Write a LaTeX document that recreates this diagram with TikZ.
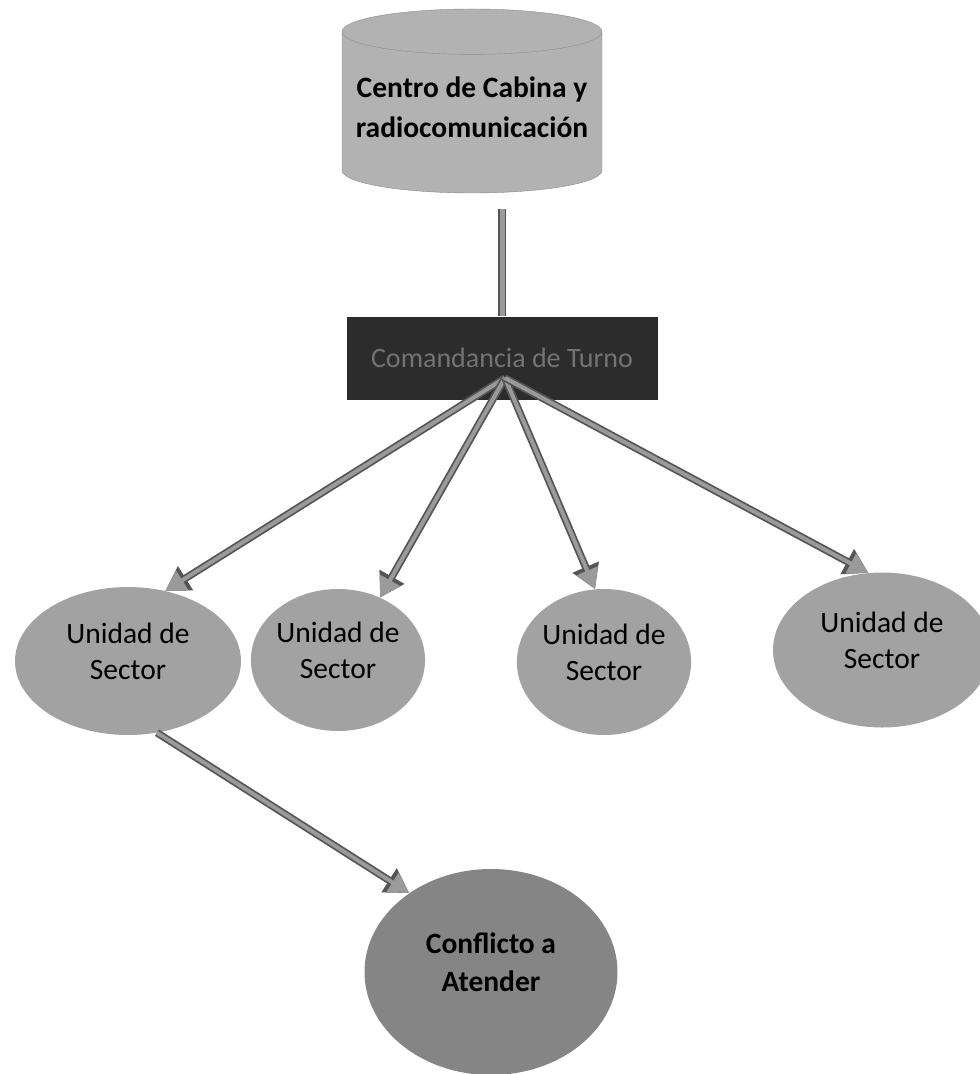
\documentclass[tikz,border=0pt]{standalone}
\usepackage{fontspec}
\setmainfont{Carlito}
\usetikzlibrary{shapes.geometric,arrows.meta,calc}

\definecolor{cabgray}{HTML}{B2B2B2}
\definecolor{secgray}{HTML}{A2A2A2}
\definecolor{confgray}{HTML}{858585}
\definecolor{boxdark}{HTML}{2C2C2C}
\definecolor{linkgray}{HTML}{9A9A9A}
\definecolor{linkedge}{HTML}{555555}

\tikzstyle{sector}=[ellipse, fill=secgray, inner sep=0pt, align=center,
  text depth=20pt, font=\fontsize{29.5}{36}\selectfont]
\tikzstyle{link}=[line width=4pt, linkgray,
  -{Triangle[width=22pt,length=20pt,fill=linkgray]},
  preaction={draw, linkedge, line width=7.5pt,
    -{Triangle[width=27pt,length=24pt,fill=linkedge]}}]

\begin{document}
\begin{tikzpicture}[x=1pt, y=-1pt]
    \useasboundingbox (0,0) rectangle (980,1074);

    \path (472,115) node[cylinder, shape border rotate=90, aspect=0.19,
        minimum height=184pt, minimum width=260pt, fill=cabgray,
        draw=black!45, thin, align=center, text depth=16pt,
        font=\fontsize{29.5}{40}\selectfont\bfseries]
        (cabina) {Centro de Cabina y\\radiocomunicación};

    \path (502,358) node[rectangle, fill=boxdark, minimum width=311pt,
        minimum height=83pt, text=black!55, font=\fontsize{28}{34}\selectfont]
        (turno) {Comandancia de Turno};

    \coordinate (hub) at (505,378);

    \foreach \x/\y/\w/\h [count=\i] in {128/661/226/148, 338/660/166/142,
        604/662/173/146, 882/650/218/155}
    {
      \path (\x,\y) node[sector, minimum width=\w pt, minimum height=\h pt]
        (s\i) {Unidad de\\Sector};
    }

    \path (491,972) node[ellipse, fill=confgray, minimum width=253pt,
        minimum height=206pt, inner sep=0pt, align=center, text depth=20pt,
        font=\fontsize{29.5}{38}\selectfont\bfseries]
        (conflicto) {Conflicto a\\Atender};

    \coordinate (enlace) at ($(cabina.south -| turno.north)+(0,16)$);
    \draw[line width=8pt, linkedge] (enlace) -- (turno.north);
    \draw[line width=5pt, linkgray] (enlace) -- (turno.north);

    \draw[link] (hub) -- (s1.62);
    \draw[link] (hub) -- (s2.56);
    \draw[link] (hub) -- (s3.97);
    \draw[link] (hub) -- (s4.100);
    \draw[link] (s1.-68) -- (conflicto.136);
  \end{tikzpicture}
\end{document}
